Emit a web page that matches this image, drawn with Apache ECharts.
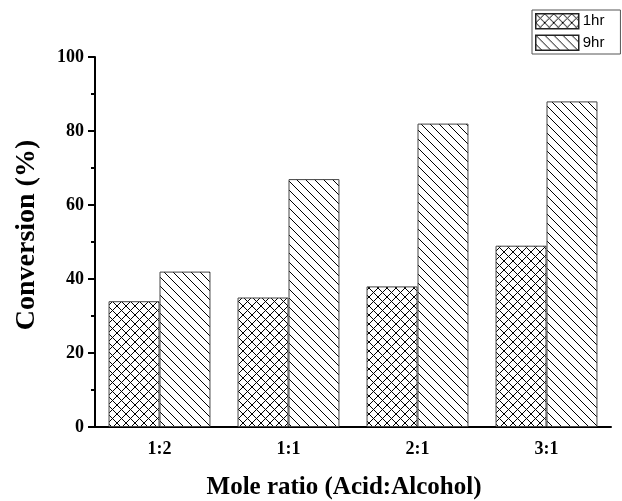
<!DOCTYPE html>
<html>
<head>
<meta charset="utf-8">
<script src="https://cdn.jsdelivr.net/npm/echarts@6/dist/echarts.min.js"></script>
<style>html,body{margin:0;padding:0;background:#fff}#c{width:622px;height:501px}</style>
</head>
<body>
<div id="c"></div>
<script>
const categories = ['1:2', '1:1', '2:1', '3:1'];
const seriesNames = ['1hr', '9hr'];
const values1hr = [34, 35, 38, 49];
const values9hr = [42, 67, 82, 88];
const yTicks = [0, 20, 40, 60, 80, 100];

function makePattern(cross) {
  const s = 9;
  const c = document.createElement('canvas');
  c.width = s; c.height = s;
  const ctx = c.getContext('2d');
  ctx.fillStyle = '#fff';
  ctx.fillRect(0, 0, s, s);
  ctx.strokeStyle = '#000';
  ctx.lineWidth = 1;
  ctx.beginPath();
  ctx.moveTo(-1, -1); ctx.lineTo(s + 1, s + 1);
  ctx.moveTo(-1, s - 1); ctx.lineTo(1, s + 1);
  ctx.moveTo(s - 1, -1); ctx.lineTo(s + 1, 1);
  if (cross) {
    ctx.moveTo(-1, s + 1); ctx.lineTo(s + 1, -1);
    ctx.moveTo(-1, 1); ctx.lineTo(1, -1);
    ctx.moveTo(s - 1, s + 1); ctx.lineTo(s + 1, s - 1);
  }
  ctx.stroke();
  return { image: c, repeat: 'repeat' };
}

const chart = echarts.init(document.getElementById('c'), null, { renderer: 'canvas' });
const serif = '"Liberation Serif","Times New Roman",serif';
const option = {
  animation: false,
  backgroundColor: '#fff',
  legend: {
    orient: 'vertical',
    left: 532, top: 10,
    padding: [3, 16, 3, 3],
    itemGap: 5,
    itemWidth: 43, itemHeight: 15,
    icon: 'rect',
    borderColor: '#555', borderWidth: 1,
    itemStyle: { borderColor: '#222', borderWidth: 1.5 },
    textStyle: { fontFamily: '"Liberation Sans",Arial,sans-serif', fontSize: 15, color: '#000', padding: [0, 0, 0, -1] },
    data: seriesNames
  },
  grid: { left: 95, right: 11, top: 57, bottom: 74, containLabel: false, outerBoundsMode: 'none' },
  xAxis: [{
    type: 'category',
    data: categories,
    name: 'Mole ratio (Acid:Alcohol)',
    nameLocation: 'middle',
    nameGap: 48,
    nameTextStyle: { fontFamily: serif, fontWeight: 'bold', fontSize: 25, color: '#000', padding: [0, 18, 0, 0] },
    axisLine: { lineStyle: { color: '#000', width: 2 } },
    axisTick: { alignWithLabel: true, length: 7, lineStyle: { color: '#000', width: 2 } },
    axisLabel: { fontFamily: serif, fontWeight: 'bold', fontSize: 18, color: '#000', margin: 13 },
    splitLine: { show: false }
  }, {
    type: 'category',
    data: categories,
    position: 'bottom',
    axisLine: { show: false },
    axisTick: { length: 4, lineStyle: { color: '#000', width: 2 } },
    axisLabel: { show: false },
    splitLine: { show: false }
  }],
  yAxis: {
    type: 'value',
    min: yTicks[0], max: yTicks[yTicks.length - 1], interval: 20,
    name: 'Conversion (%)',
    nameLocation: 'middle',
    nameGap: 54,
    nameTextStyle: { fontFamily: serif, fontWeight: 'bold', fontSize: 28, color: '#000', padding: [0, 0, 0, 14] },
    axisLine: { show: true, lineStyle: { color: '#000', width: 2 } },
    axisTick: { show: true, length: 7, lineStyle: { color: '#000', width: 2 } },
    minorTick: { show: true, splitNumber: 2, length: 4, lineStyle: { color: '#000', width: 2 } },
    axisLabel: { fontFamily: serif, fontWeight: 'bold', fontSize: 18, color: '#000', margin: 11 },
    splitLine: { show: false }
  },
  series: [{
    name: seriesNames[0],
    type: 'bar',
    data: values1hr,
    barGap: '0%',
    barCategoryGap: '21%',
    itemStyle: { color: makePattern(true), borderColor: '#444', borderWidth: 1 }
  }, {
    name: seriesNames[1],
    type: 'bar',
    data: values9hr,
    barGap: '0%',
    barCategoryGap: '21%',
    itemStyle: { color: makePattern(false), borderColor: '#444', borderWidth: 1 }
  }]
};
chart.setOption(option);
</script>
</body>
</html>
